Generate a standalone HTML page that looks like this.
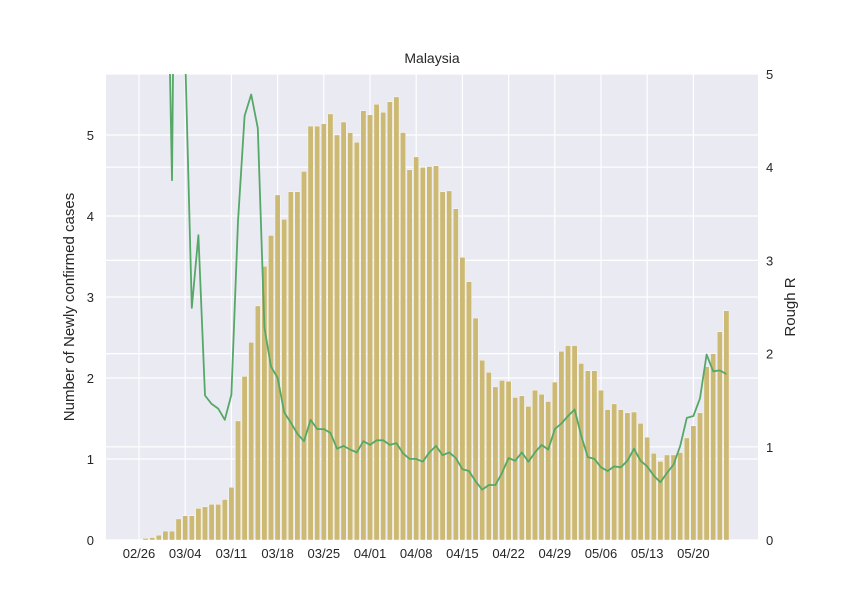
<!DOCTYPE html>
<html><head><meta charset="utf-8"><style>
body{margin:0;background:#fff;}
svg{display:block;font-family:"Liberation Sans",Arial,sans-serif;}
</style></head><body>
<svg id="chart" width="843" height="606">
<defs><clipPath id="clip"><rect x="106" y="74" width="652" height="466"/></clipPath></defs>
<rect x="106" y="74" width="652" height="466" fill="#eaeaf2"/>
<g id="grid"></g>
<g id="bars" clip-path="url(#clip)"></g>
<g id="line" clip-path="url(#clip)"></g>
<g id="axes"></g>
<text x="432" y="63" text-anchor="middle" font-size="14" fill="#262626">Malaysia</text>
<text transform="translate(74,307) rotate(-90)" text-anchor="middle" font-size="15" fill="#262626">Number of Newly confirmed cases</text>
<text transform="translate(795,307) rotate(-90)" text-anchor="middle" font-size="15" fill="#262626">Rough R</text>
</svg>
<script>
const casesVals=[0,0.02,0.03,0.06,0.11,0.11,0.26,0.30,0.30,0.39,0.41,0.44,0.44,0.50,0.65,1.47,2.02,2.44,2.89,3.38,3.76,4.26,3.96,4.30,4.30,4.55,5.11,5.11,5.14,5.26,5.00,5.16,5.03,4.91,5.30,5.25,5.38,5.28,5.41,5.47,5.03,4.57,4.73,4.60,4.61,
4.62,4.30,4.31,4.09,3.49,3.19,2.74,2.22,2.07,1.89,1.97,1.96,1.76,1.78,1.65,1.85,1.80,1.71,1.95,2.33,2.40,2.40,2.18,2.09,2.09,1.85,1.61,1.68,1.61,1.57,1.58,1.44,1.27,1.07,0.97,1.05,1.05,1.08,1.26,1.41,1.57,2.14,2.30,2.57,2.83];
const rStart=4;
const rVals=[7.6,3.86,11.4,5.2,2.49,3.27,1.55,1.46,1.41,1.29,1.56,3.42,4.55,4.78,4.42,2.28,1.86,1.74,1.37,1.26,1.14,1.06,1.29,1.19,1.19,1.15,0.98,1.01,0.97,0.94,1.06,1.02,1.07,1.07,1.02,1.04,0.93,0.87,0.87,0.84,0.94,
1.01,0.91,0.94,0.88,0.76,0.74,0.63,0.54,0.59,0.59,0.72,0.88,0.85,0.94,0.84,0.94,1.02,0.97,1.19,1.25,1.33,1.40,1.12,0.89,0.87,0.78,0.74,0.79,0.78,0.85,0.98,0.85,0.79,0.69,0.62,0.72,0.81,1.01,1.31,1.33,1.52,1.99,1.81,1.82,1.78];
const xTickLabels=["02/26","03/04","03/11","03/18","03/25","04/01","04/08","04/15","04/22","04/29","05/06","05/13","05/20"];
const leftTicks=[0,1,2,3,4,5];
const rightTicks=[0,1,2,3,4,5];
const NS="http://www.w3.org/2000/svg";
const x=d=>139+d*6.6;
const yL=v=>540-v*81;
const yR=v=>540-v*93.2;
function mk(tag,attrs,parent){const e=document.createElementNS(NS,tag);for(const k in attrs)e.setAttribute(k,attrs[k]);parent.appendChild(e);return e;}
const grid=document.getElementById('grid'),axes=document.getElementById('axes');
leftTicks.forEach(v=>{
 const l=mk('line',{x1:106,x2:758,y1:yL(v),y2:yL(v),stroke:'#fff','stroke-width':1.2},grid);
 
 
 const t=mk('text',{x:94,y:yL(v)+5,'text-anchor':'end','font-size':13,fill:'#262626'},axes);
 t.textContent=v;
 
 
});
rightTicks.forEach(v=>{
 const l=mk('line',{x1:106,x2:758,y1:yR(v),y2:yR(v),stroke:'#fff','stroke-width':1.2},grid);
 
 
 const t=mk('text',{x:766,y:yR(v)+5,'font-size':13,fill:'#262626'},axes);
 t.textContent=v;
 
 
});
xTickLabels.forEach((s,i)=>{
 const xx=x(i*7);
 const l=mk('line',{x1:xx,x2:xx,y1:74,y2:540,stroke:'#fff','stroke-width':1.2},grid);
 
 
 const t=mk('text',{x:xx,y:558,'text-anchor':'middle','font-size':13,fill:'#262626'},axes);
 t.textContent=s;
 
 
});
const bars=document.getElementById('bars');
const bw=6.6*0.8;
casesVals.forEach((v,i)=>{
 if(v<=0)return;
 const r=mk('rect',{x:x(i)-bw/2,y:yL(v),width:bw,height:540-yL(v),fill:'#ccb974',stroke:'#fff','stroke-width':0.4},bars);
 
 
});
const pts=rVals.map((v,i)=>x(i+rStart).toFixed(1)+','+yR(v).toFixed(1)).join(' ');
const pl=mk('polyline',{points:pts,fill:'none',stroke:'#55a868','stroke-width':1.8,'stroke-linejoin':'round'},document.getElementById('line'));


</script>
</body></html>
